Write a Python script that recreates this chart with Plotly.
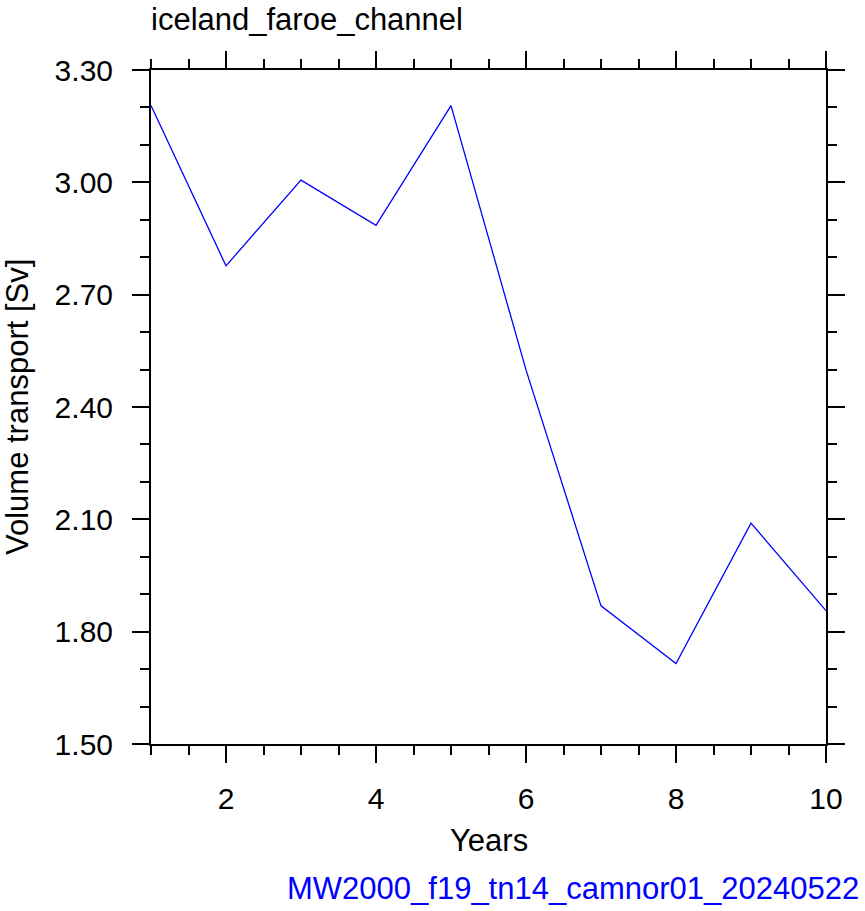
import plotly.graph_objects as go

years = [1, 2, 3, 4, 5, 6, 7, 8, 9, 10]
transport = [3.205, 2.777, 3.006, 2.885, 3.205, 2.499, 1.869, 1.715, 2.090, 1.856]

title_text = "iceland_faroe_channel"
x_title = "Years"
y_title = "Volume transport [Sv]"
footer = "MW2000_f19_tn14_camnor01_20240522"

font_family = "Liberation Sans, Arial, Helvetica, sans-serif"
FS = 31

W, H = 865, 911
ML, MR, MT, MB = 151, 39, 70, 167
PW, PH = W - ML - MR, H - MT - MB


def px_x(x):
    return (x - ML) / PW


def px_y(y):
    return (H - MB - y) / PH


fig = go.Figure()
fig.add_trace(go.Scatter(x=years, y=transport, mode="lines",
                         line=dict(color="#0000ff", width=1.3), showlegend=False))

axis_common = dict(
    showgrid=False, zeroline=False, showline=True, linecolor="black", linewidth=2,
    mirror="ticks", ticks="outside", ticklen=17, tickwidth=2, tickcolor="black",
    tickfont=dict(size=30, color="black", family=font_family),
)

fig.update_xaxes(range=[1, 10], tick0=2, dtick=2,
                 minor=dict(dtick=0.5, tick0=1, ticks="outside", ticklen=9, tickwidth=1.5, tickcolor="black"),
                 ticklabelstandoff=10,
                 **axis_common)
fig.update_yaxes(range=[1.5, 3.3], tick0=1.5, dtick=0.3, tickformat=".2f",
                 minor=dict(dtick=0.1, tick0=1.5, ticks="outside", ticklen=9, tickwidth=1.5, tickcolor="black"),
                 ticklabelstandoff=13,
                 **axis_common)

fig.update_layout(
    width=W, height=H,
    margin=dict(l=ML, r=MR, t=MT, b=MB),
    paper_bgcolor="white", plot_bgcolor="white",
    font=dict(family=font_family, color="black"),
    annotations=[
        dict(text=title_text, x=px_x(149), y=px_y(20), xref="paper", yref="paper",
             xanchor="left", yanchor="middle", showarrow=False,
             font=dict(size=FS, family=font_family, color="black")),
        dict(text=x_title, x=0.5, y=px_y(840), xref="paper", yref="paper",
             xanchor="center", yanchor="middle", showarrow=False,
             font=dict(size=FS, family=font_family, color="black")),
        dict(text=y_title, x=px_x(17), y=px_y(407), xref="paper", yref="paper", textangle=-90,
             xanchor="center", yanchor="middle", showarrow=False,
             font=dict(size=FS, family=font_family, color="black")),
        dict(text=footer, x=px_x(861), y=px_y(888), xref="paper", yref="paper",
             xanchor="right", yanchor="middle", showarrow=False,
             font=dict(size=FS, family=font_family, color="#0000ff")),
    ],
)

fig.write_html("out.html")
